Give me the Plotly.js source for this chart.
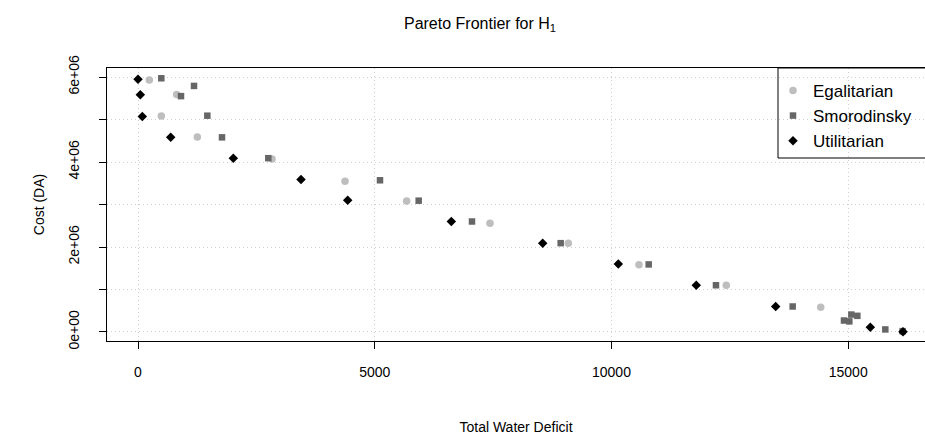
<!DOCTYPE html>
<html>
<head>
<meta charset="utf-8">
<script src="https://cdn.plot.ly/plotly-3.0.1.min.js"></script>
<style>html,body{margin:0;padding:0;background:#fff;}#chart{width:925px;height:445px;}</style>
</head>
<body>
<div id="chart"></div>
<script>
// Data
const egalX = [239, 817, 492, 1253, 2830, 4372, 5675, 7434, 9088, 10581, 12425, 14419, 16150];
const egalY = [5.93e6, 5.59e6, 5.08e6, 4.59e6, 4.07e6, 3.55e6, 3.08e6, 2.56e6, 2.09e6, 1.58e6, 1.10e6, 0.58e6, 0.01e6];

const smoX = [492, 1183, 908, 1464, 1774, 2752, 5111, 5928, 7054, 8927, 10786, 12207, 13827, 15066, 15193, 14911, 15024, 15784, 16150];
const smoY = [5.97e6, 5.79e6, 5.55e6, 5.09e6, 4.58e6, 4.09e6, 3.57e6, 3.09e6, 2.60e6, 2.09e6, 1.59e6, 1.10e6, 0.60e6, 0.41e6, 0.38e6, 0.27e6, 0.25e6, 0.06e6, 0.02e6];

const utilX = [0, 49, 91, 690, 2013, 3443, 4429, 6617, 8547, 10144, 11791, 13468, 15467, 16157];
const utilY = [5.95e6, 5.58e6, 5.07e6, 4.58e6, 4.09e6, 3.59e6, 3.10e6, 2.60e6, 2.09e6, 1.60e6, 1.10e6, 0.60e6, 0.11e6, 0.007e6];

const seriesNames = ["Egalitarian", "Smorodinsky", "Utilitarian"];
const xTickVals = [0, 5000, 10000, 15000];
const xTickText = ["0", "5000", "10000", "15000"];
const yTickVals = [0, 2e6, 4e6, 6e6];
const yTickText = ["0e+00", "2e+06", "4e+06", "6e+06"];

const FONT = "Liberation Sans, Arial, Helvetica, sans-serif";
const GRIDDASH = "1px,3px";
const GRIDCOLOR = "#CFCFCF";

const traces = [
  {x: egalX, y: egalY, name: seriesNames[0], type: "scatter", mode: "markers",
   marker: {symbol: "circle", size: 7.5, color: "#BEBEBE", line: {width: 0}}},
  {x: smoX, y: smoY, name: seriesNames[1], type: "scatter", mode: "markers",
   marker: {symbol: "square", size: 6.5, color: "#666666", line: {width: 0}}},
  {x: utilX, y: utilY, name: seriesNames[2], type: "scatter", mode: "markers",
   marker: {symbol: "diamond", size: 7.3, color: "#000000", line: {width: 0}}}
];

const layout = {
  width: 925, height: 445,
  margin: {l: 107, r: 0, t: 68, b: 104},
  paper_bgcolor: "#ffffff", plot_bgcolor: "#ffffff",
  font: {family: FONT, size: 14, color: "#000"},
  title: {text: "Pareto Frontier for H<sub>1</sub>", font: {family: FONT, size: 16, color: "#000"},
          x: 480/925, xref: "container", xanchor: "center", y: 1 - 23/445, yref: "container", yanchor: "middle"},
  xaxis: {
    range: [-655, 16622], tickmode: "array", tickvals: xTickVals, ticktext: xTickText,
    showline: true, linecolor: "#000", linewidth: 1, mirror: true,
    ticks: "outside", ticklen: 7, tickcolor: "#000", tickwidth: 1,
    showgrid: true, gridcolor: GRIDCOLOR, griddash: GRIDDASH, gridwidth: 1, zeroline: false,
    tickfont: {family: FONT, size: 14, color: "#000"}, ticklabelstandoff: 11,
    title: {text: "Total Water Deficit", font: {family: FONT, size: 14, color: "#000"}, standoff: 43},
    automargin: false
  },
  yaxis: {
    range: [-0.212e6, 6.212e6], tickmode: "array", tickvals: yTickVals, ticktext: yTickText,
    showline: true, linecolor: "#000", linewidth: 1, mirror: false,
    ticks: "outside", ticklen: 7, tickcolor: "#000", tickwidth: 1, tickangle: -90,
    showgrid: true, gridcolor: GRIDCOLOR, griddash: GRIDDASH, gridwidth: 1, zeroline: false,
    minor: {tickmode: "linear", tick0: 0, dtick: 1e6, ticks: "outside", ticklen: 7, tickcolor: "#000", tickwidth: 1,
            showgrid: true, gridcolor: GRIDCOLOR, griddash: GRIDDASH, gridwidth: 1},
    tickfont: {family: FONT, size: 14, color: "#000"}, ticklabelstandoff: 14,
    title: {text: "Cost (DA)", font: {family: FONT, size: 14, color: "#000"}, standoff: 18},
    automargin: false
  },
  showlegend: true,
  legend: {
    x: (773 - 107) / 818, xanchor: "left", y: 0.982, yanchor: "top",
    bgcolor: "rgba(0,0,0,0)", borderwidth: 0,
    font: {family: FONT, size: 17, color: "#000"},
    traceorder: "normal"
  },
  shapes: [
    {type: "rect", xref: "paper", yref: "paper", x0: (778 - 107) / 818, x1: 1.05,
     y0: 1 - (158 - 68) / 273, y1: 1, line: {color: "#000", width: 1}, fillcolor: "rgba(0,0,0,0)"}
  ]
};

Plotly.newPlot("chart", traces, layout, {displayModeBar: false, staticPlot: true});
</script>
</body>
</html>
